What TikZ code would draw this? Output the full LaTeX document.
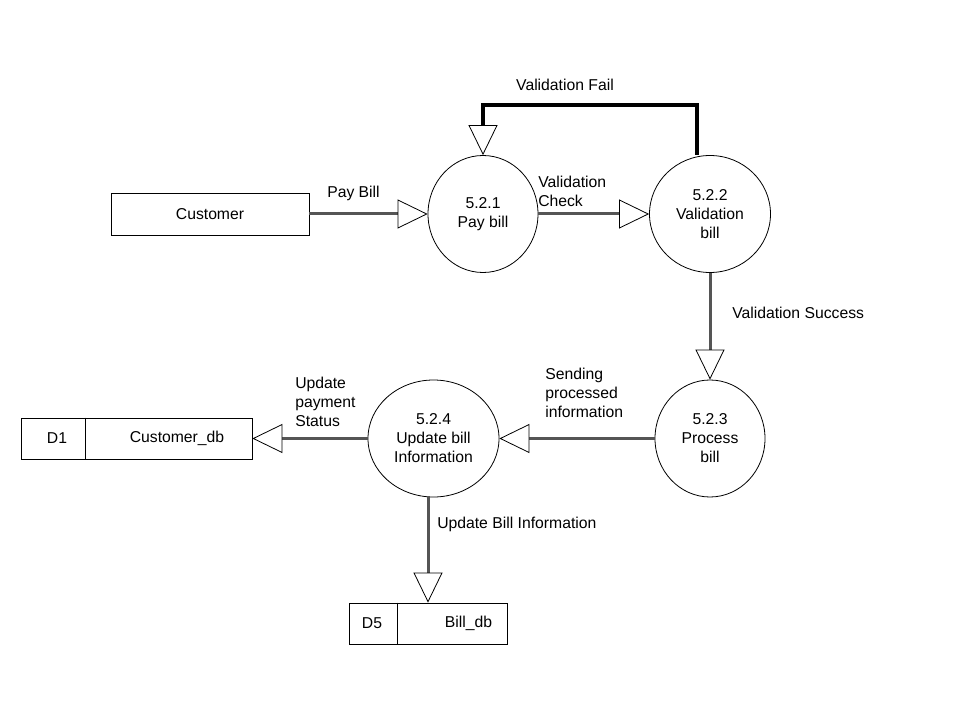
\documentclass[tikz,border=0pt]{standalone}
\usepackage{fontspec}
\setmainfont{Liberation Sans}
\usepackage{xcolor}
\usepackage{tikz}
\usetikzlibrary{positioning, calc, arrows.meta, shapes.geometric}
\definecolor{flowgray}{RGB}{85, 85, 85}
\tikzset{
    procnode/.style={
        ellipse, draw=black, line width=0.6pt, fill=white, align=center,
        minimum height=87.75pt, inner sep=0pt
    },
    entitynode/.style={
        rectangle, draw=black, line width=0.6pt, minimum width=148.5pt, minimum height=31.5pt
    },
    storenode/.style={
        rectangle, draw=black, line width=0.6pt, minimum height=30.75pt
    },
    lbl/.style={
        align=left, inner sep=0pt
    }
}

\begin{document}
\begin{tikzpicture}[
        x=0.75pt, y=-0.75pt,
        font=\fontsize{11.8}{14.3}\selectfont,
        % --- STYLE ---
        flow/.style={
            draw=flowgray, line width=2.25pt,
            -{Triangle[open, length=22.5pt, width=21.75pt, line width=0.6pt, color=black, fill=white]}
        },
        failflow/.style={
            draw=black, line width=2.4pt,
            -{Triangle[open, length=22.5pt, width=21.75pt, line width=0.6pt, color=black, fill=white]}
        }
    ]
        \useasboundingbox (0,0) rectangle (960,720);

        % --- 1. NODES ---
        \node[entitynode] (cust) at (210,214) {Customer};
        \node[procnode, minimum width=82.5pt] (p1) at (483,214) {5.2.1\\Pay bill};
        \node[procnode, minimum width=90.75pt] (p2) at (710,214) {5.2.2\\Validation\\bill};
        \node[procnode, minimum width=82.5pt] (p3) at (710,438.5) {5.2.3\\Process\\bill};
        \node[procnode, minimum width=98.25pt] (p4) at (433.5,438.5) {5.2.4\\Update bill\\Information};

        % --- 2. DATA STORES ---
        \node[storenode, minimum width=173.25pt] (d1) at (136.5,438.5) {};
        \draw[line width=0.6pt] ([xshift=48.75pt]d1.north west) -- ([xshift=48.75pt]d1.south west);
        \node (d1id) at (57,438.5) {D1};
        \node (d1name) at (177,438.5) {Customer\_db};

        \node[storenode, minimum width=118.5pt] (d5) at (428,623.5) {};
        \draw[line width=0.6pt] ([xshift=36.75pt]d5.north west) -- ([xshift=36.75pt]d5.south west);
        \node (d5id) at (372,623.5) {D5};
        \node (d5name) at (468.5,623.5) {Bill\_db};

        % --- 3. FLOWS ---
        \draw[flow] (cust.east) -- (p1.west);
        \draw[flow] (p1.east) -- (p2.west);
        \draw[flow] (p2.south) -- (p3.north);
        \draw[flow] (p3.west) -- (p4.east);
        \draw[flow] (p4.west) -- (d1.east);
        \draw[flow] (d5.north |- p4.south) -- (d5.north);

        \coordinate (failtop) at (697,105);
        \draw[failflow] (failtop |- p2.north) -- (failtop) -| (p1.north);

        % --- 4. LABELS ---
        \node[lbl, anchor=west] (lpay) at (327,193) {Pay Bill};
        \node[lbl, anchor=west] (lcheck) at (538,191.5) {Validation\\Check};
        \node[lbl] (lfail) at (565,85) {Validation Fail};
        \node[lbl, anchor=west] (lsucc) at (732,313) {Validation Success};
        \node[lbl, anchor=west] (lsend) at (545,392.5) {Sending\\processed\\information};
        \node[lbl, anchor=west] (lstatus) at (295,402) {Update\\payment\\Status};
        \node[lbl, anchor=west] (lbill) at (437,524) {Update Bill Information};

    \end{tikzpicture}
\end{document}
